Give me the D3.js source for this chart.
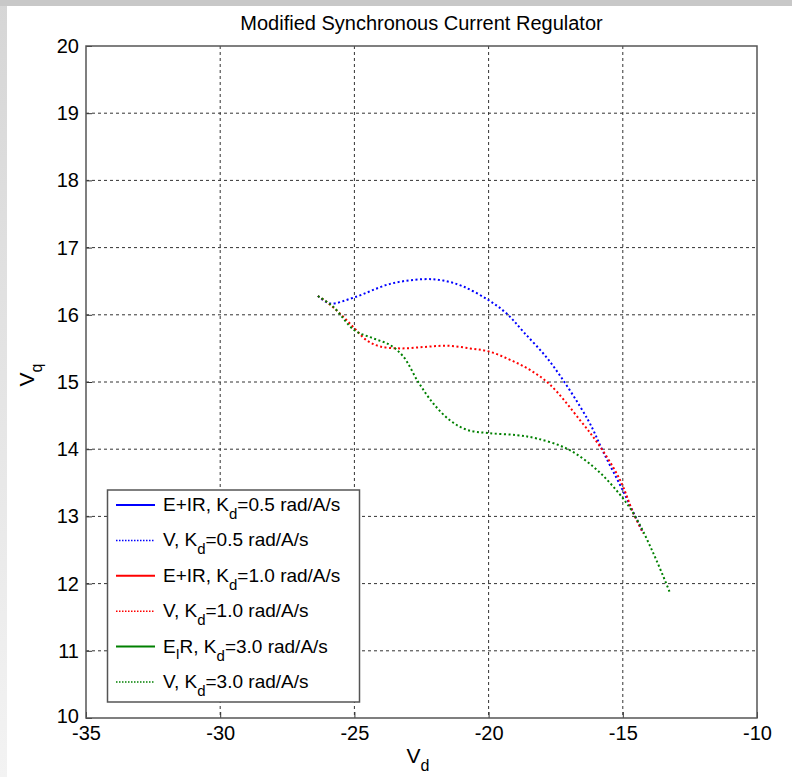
<!DOCTYPE html>
<html>
<head>
<meta charset="utf-8">
<script src="https://cdn.jsdelivr.net/npm/d3@7"></script>
<style>
  body { margin: 0; background: #fff; }
  svg { display: block; font-family: Arial, "Liberation Sans", sans-serif; }
</style>
</head>
<body>
<svg id="chart" width="792" height="777"></svg>
<script>
// V trajectories (Vd, Vq)
const vdK05 = [-26.36, -25.91, -25.0, -23.67, -22.43, -21.69, -20.94, -20.01, -19.33, -18.71, -17.71, -16.29, -15.73, -14.98, -14.24];
const vqK05 = [16.28, 16.17, 16.26, 16.46, 16.53, 16.51, 16.42, 16.22, 16.02, 15.75, 15.30, 14.43, 13.96, 13.37, 12.75];

const vdK10 = [-26.36, -26.03, -25.54, -25.0, -24.54, -24.05, -23.30, -22.43, -21.56, -20.69, -19.95, -19.20, -18.46, -17.71, -16.59, -15.85, -15.10, -14.61, -14.24];
const vqK10 = [16.28, 16.19, 16.02, 15.80, 15.62, 15.53, 15.50, 15.52, 15.54, 15.50, 15.45, 15.33, 15.18, 14.96, 14.43, 14.04, 13.54, 13.05, 12.75];

const vdK30 = [-26.36, -25.79, -25.0, -24.30, -23.67, -23.18, -22.62, -22.06, -21.44, -20.82, -20.01, -18.96, -18.21, -17.09, -16.10, -15.35, -14.61, -13.86, -13.24];
const vqK30 = [16.28, 16.12, 15.77, 15.65, 15.55, 15.38, 15.0, 14.68, 14.43, 14.29, 14.24, 14.21, 14.16, 14.01, 13.74, 13.44, 13.05, 12.45, 11.86];

const xTicks = [-35, -30, -25, -20, -15, -10];
const yTicks = [10, 11, 12, 13, 14, 15, 16, 17, 18, 19, 20];

const legendRows = [
  { pre: 'E+IR, K', val: '=0.5 rad/A/s', color: '#0000ff', dotted: false },
  { pre: 'V, K',    val: '=0.5 rad/A/s', color: '#0000ff', dotted: true },
  { pre: 'E+IR, K', val: '=1.0 rad/A/s', color: '#ff0000', dotted: false },
  { pre: 'V, K',    val: '=1.0 rad/A/s', color: '#ff0000', dotted: true },
  { pre: 'E_IR, K', val: '=3.0 rad/A/s', color: '#008000', dotted: false },
  { pre: 'V, K',    val: '=3.0 rad/A/s', color: '#008000', dotted: true }
];

const series = [
  { vd: vdK05, vq: vqK05, color: '#0000ff' },
  { vd: vdK10, vq: vqK10, color: '#ff0000' },
  { vd: vdK30, vq: vqK30, color: '#008000' }
];

const W = 792, H = 777;
const m = { left: 86, top: 46, right: 757, bottom: 718 };

const svg = d3.select('#chart');

// window frame bands
const defs = svg.append('defs');
const grad = defs.append('linearGradient').attr('id', 'lband')
  .attr('x1', 0).attr('y1', 0).attr('x2', 0).attr('y2', 1);
grad.append('stop').attr('offset', '0%').attr('stop-color', '#d6d6d6');
grad.append('stop').attr('offset', '100%').attr('stop-color', '#f3f3f3');
svg.append('rect').attr('x', 0).attr('y', 0).attr('width', 7).attr('height', H).attr('fill', 'url(#lband)');
svg.append('rect').attr('x', 0).attr('y', 0).attr('width', W).attr('height', 6).attr('fill', '#c8c8c8');

const x = d3.scaleLinear().domain([-35, -10]).range([m.left, m.right]);
const y = d3.scaleLinear().domain([10, 20]).range([m.bottom, m.top]);

// grid
const grid = svg.append('g').attr('stroke', '#333').attr('stroke-width', 1)
  .attr('stroke-dasharray', '3,3');
grid.selectAll('.gx').data(xTicks.slice(1, -1)).join('line')
  .attr('x1', d => x(d)).attr('x2', d => x(d))
  .attr('y1', m.top).attr('y2', m.bottom);
grid.selectAll('.gy').data(yTicks.slice(1, -1)).join('line')
  .attr('y1', d => y(d)).attr('y2', d => y(d))
  .attr('x1', m.left).attr('x2', m.right);

// axes (ticks inward, MATLAB style)
const fmt = d => String(d);
const xAxis = svg.append('g').attr('transform', `translate(0,${m.bottom})`)
  .call(d3.axisBottom(x).tickValues(xTicks).tickSize(-6).tickPadding(10).tickFormat(fmt));
const yAxis = svg.append('g').attr('transform', `translate(${m.left},0)`)
  .call(d3.axisLeft(y).tickValues(yTicks).tickSize(-6).tickPadding(7).tickFormat(fmt));
[xAxis, yAxis].forEach(a => {
  a.select('.domain').remove();
  a.selectAll('.tick line').attr('stroke', '#333');
  a.selectAll('.tick text').attr('fill', '#000').style('font-size', '20px')
    .style('font-family', 'Arial, "Liberation Sans", sans-serif');
});
xAxis.selectAll('.tick text').attr('dy', '0.62em');
yAxis.selectAll('.tick text').filter(d => d === 10).attr('dy', '0.2em');

// box
svg.append('rect').attr('x', m.left).attr('y', m.top)
  .attr('width', m.right - m.left).attr('height', m.bottom - m.top)
  .attr('fill', 'none').attr('stroke', '#555').attr('stroke-width', 1.5);

// curves
const line = d3.line().x(d => x(d[0])).y(d => y(d[1])).curve(d3.curveCatmullRom.alpha(0.5));
svg.append('g').selectAll('path').data(series).join('path')
  .attr('d', s => line(s.vd.map((v, i) => [v, s.vq[i]])))
  .attr('fill', 'none').attr('stroke', s => s.color)
  .attr('stroke-width', 2).attr('stroke-dasharray', '2,2.5');

// title and labels
svg.append('text').attr('x', (m.left + m.right) / 2).attr('y', 30)
  .attr('text-anchor', 'middle').style('font-size', '20px')
  .text('Modified Synchronous Current Regulator');

const xl = svg.append('text').attr('x', 418).attr('y', 763).attr('text-anchor', 'middle')
  .style('font-size', '21px');
xl.append('tspan').text('V');
xl.append('tspan').attr('dy', 8).style('font-size', '16px').text('d');

const yl = svg.append('text').attr('transform', 'translate(34,375) rotate(-90)')
  .attr('text-anchor', 'middle').style('font-size', '21px');
yl.append('tspan').text('V');
yl.append('tspan').attr('dy', 8).style('font-size', '16px').text('q');

// legend
const lg = svg.append('g');
lg.append('rect').attr('x', 107.5).attr('y', 490).attr('width', 252).attr('height', 212)
  .attr('fill', '#fff').attr('stroke', '#555').attr('stroke-width', 1.5);
const rowY = d3.scaleLinear().domain([0, 5]).range([505, 682]);
legendRows.forEach((r, i) => {
  const yy = rowY(i);
  lg.append('line').attr('x1', 116).attr('x2', 155).attr('y1', yy).attr('y2', yy)
    .attr('stroke', r.color).attr('stroke-width', r.dotted ? 1.5 : 2)
    .attr('stroke-dasharray', r.dotted ? '1.5,1.5' : null);
  const t = lg.append('text').attr('x', 163).attr('y', yy + 6).style('font-size', '19px');
  if (r.pre.startsWith('E_IR')) {
    t.append('tspan').text('E');
    t.append('tspan').attr('dy', 6).style('font-size', '14px').text('I');
    t.append('tspan').attr('dy', -6).text('R, K');
  } else {
    t.append('tspan').text(r.pre);
  }
  t.append('tspan').attr('dy', 8).style('font-size', '15px').text('d');
  t.append('tspan').attr('dy', -8).text(r.val);
});
</script>
</body>
</html>
